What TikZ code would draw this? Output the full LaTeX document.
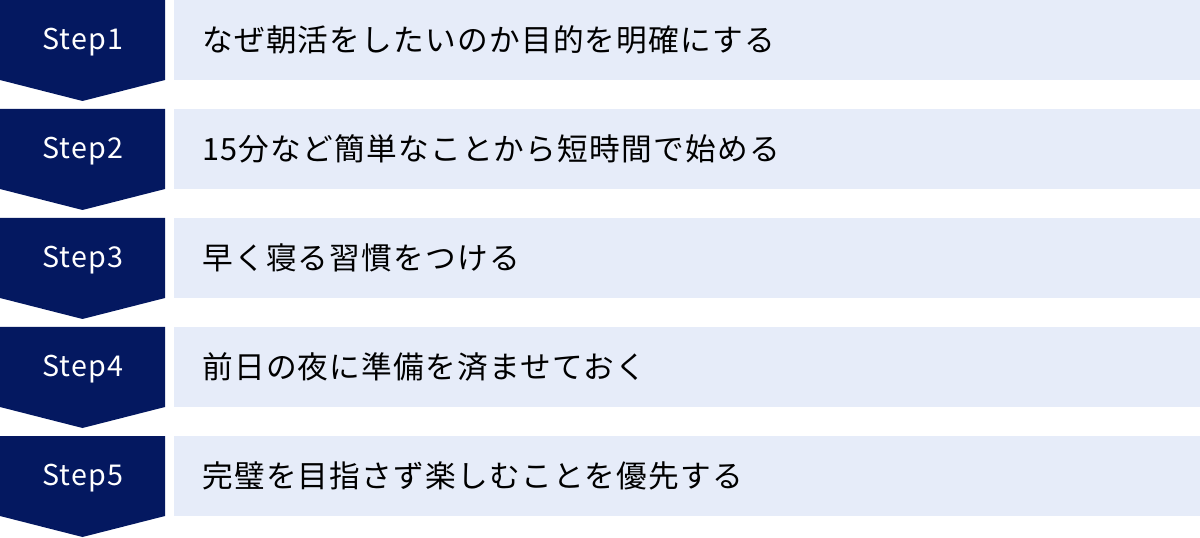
\documentclass[tikz,border=0pt]{standalone}
\usepackage{fontspec}
\setmainfont{Noto Sans CJK JP}
\newfontfamily\stepfont[LetterSpace=4]{Noto Sans CJK JP}
\newfontfamily\taskfont[LetterSpace=4]{Noto Sans CJK JP}
\usepackage{tikz}
\usetikzlibrary{calc}
\usetikzlibrary{positioning}
\definecolor{stepnavy}{RGB}{4, 24, 96}
\definecolor{tasklight}{RGB}{230, 236, 249}

\tikzset{
    steplabel/.style = {text=white, font=\stepfont\fontsize{21.5pt}{25pt}\selectfont},
    taskbox/.style   = {fill=tasklight, anchor=north west, minimum width=1026*0.75pt,
                        minimum height=80*0.75pt, text width=970*0.75pt, inner xsep=28*0.75pt,
                        align=left, text=black, font=\taskfont\fontsize{23pt}{27pt}\selectfont},
}

\begin{document}
\begin{tikzpicture}[x=0.75pt, y=-0.75pt]
            % Frame to fix the page size
            \useasboundingbox (0, 0) rectangle (1200, 538);
            % Steps and tasks
            \foreach \n/\task in {1/なぜ朝活をしたいのか目的を明確にする,
                                  2/15分など簡単なことから短時間で始める,
                                  3/早く寝る習慣をつける,
                                  4/前日の夜に準備を済ませておく,
                                  5/完璧を目指さず楽しむことを優先する} {
                \coordinate (top\n) at (0, {(\n-1)*109});
                \fill[stepnavy] (top\n) -- ++(165, 0) -- ++(0, 80) -- ++(-82.5, 21) -- ++(-82.5, -21) -- cycle;
                \node[steplabel] (step\n) at ($(top\n) + (82.5, 42)$) {Step\n};
                \node[taskbox]   (task\n) at ($(top\n) + (174, 0)$) {\task};
            }
\end{tikzpicture}
\end{document}
